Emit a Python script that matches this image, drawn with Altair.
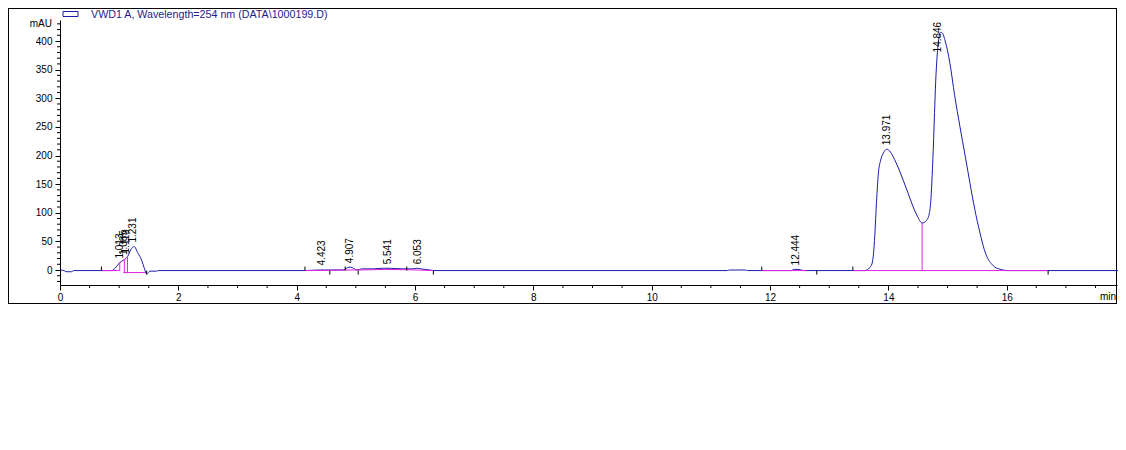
import altair as alt
import pandas as pd
import numpy as np

# ---------------- data ----------------
trace_t = [0.00, 0.07, 0.10, 0.20, 0.23, 0.87, 0.93, 1.01, 1.07, 1.14, 1.20, 1.25,
           1.32, 1.38, 1.425, 1.465, 1.52, 1.63, 1.66,
           4.14, 4.40, 4.78, 4.86, 4.91, 4.96, 5.02, 5.10, 5.30, 5.45, 5.60, 5.78,
           5.95, 6.04, 6.10, 6.25, 6.32,
           11.28, 11.32, 11.58, 11.62, 12.36, 12.41, 12.49, 12.56,
           13.60, 13.66, 13.70, 13.73, 13.75, 13.77, 13.80, 13.83, 13.87, 13.92,
           13.97, 14.02, 14.08, 14.17, 14.25, 14.33, 14.42, 14.49, 14.57, 14.64,
           14.69, 14.72, 14.74, 14.76, 14.78, 14.80, 14.82, 14.85, 14.88, 14.91,
           14.96, 15.04, 15.12, 15.21, 15.30, 15.38, 15.46, 15.55, 15.62, 15.68,
           15.74, 15.80, 15.90, 16.00, 17.90]
trace_v = [0, -1, -3, -3, -1, -1, 3, 13, 17, 23, 36, 41,
           29, 17, 3, -7, -2, -2, -1,
           -1, 0, 0, 4, 5, 3, 0, 2, 2, 3, 3, 2,
           2, 3, 2, 0, -1,
           -1, 0, 0, -1, -1, 1, 1, -1,
           -1, 2, 6, 14, 30, 60, 120, 168, 192, 205,
           211, 208, 198, 178, 157, 135, 110, 94, 82, 86,
           98, 125, 165, 215, 275, 330, 368, 403, 415, 414,
           400, 361, 305, 250, 198, 151, 106, 64, 36, 20,
           11, 5, 1, -1, -1]

# integration baselines (magenta)
base_seg = ["a", "a", "b", "b", "c", "c", "c", "c", "c", "c", "c", "d", "d", "e", "e"]
base_t = [0.70, 1.01, 1.07, 1.44, 4.14, 4.56, 4.82, 5.04, 5.50, 5.86, 6.31, 11.86, 12.62, 13.40, 16.70]
base_v = [-1, -1, -4.5, -4.5, -1, -0.5, 0, 0, 1, 0.5, -1, -1, -1, -1, -1]

# peak separation drop lines (magenta)
drop_t = [1.01, 1.087, 1.14, 14.57]
drop_lo = [-1, -4.5, -4.5, -1]
drop_hi = [13, 19, 22, 82]

# integration event markers (black)
event_t = [0.70, 1.465, 4.14, 4.56, 4.82, 5.04, 5.86, 6.31, 11.86, 12.79, 13.40, 16.70]
event_dir = ["up", "down", "up", "down", "up", "down", "up", "down", "up", "down", "up", "down"]

# peak labels
peak_text = ["1.013", "1.085", "1.119", "1.231", "4.423", "4.907", "5.541", "6.053",
             "12.444", "13.971", "14.846"]
peak_t = [1.013, 1.085, 1.119, 1.235, 4.423, 4.907, 5.541, 6.053, 12.444, 13.971, 14.846]
peak_v = [13, 19, 22, 41, 1, 5, 3, 3, 1, 211, 416]

legend_text = "VWD1 A, Wavelength=254 nm (DATA\\1000199.D)"
x_major = list(range(0, 17, 2))
y_major = list(range(0, 401, 50))

# ---------------- layout ----------------
PX_PER_MIN = 59.17
W, H = 1057, 265
X_MIN, X_MAX = 0, W / PX_PER_MIN
Y_MIN, Y_MAX = -26.2, 436.7
PX_PER_UNIT = H / (Y_MAX - Y_MIN)
BLUE = "#1c1ca8"
MAG = "#e020e0"
FONT = "Liberation Sans"

xscale = alt.Scale(domain=[X_MIN, X_MAX], nice=False, zero=False)
yscale = alt.Scale(domain=[Y_MIN, Y_MAX], nice=False, zero=False)
xaxis = alt.Axis(values=x_major, title=None, grid=False, tickSize=5, tickColor="black",
                 domainColor="black", labelColor="black", labelFont=FONT, labelFontSize=10,
                 labelPadding=2, labelFlush=False, format="d")
yaxis = alt.Axis(values=y_major, title=None, grid=False, tickSize=5, tickColor="black",
                 domainColor="black", labelColor="black", labelFont=FONT, labelFontSize=10,
                 labelPadding=3, format="d")


def X(field="t"):
    return alt.X(f"{field}:Q", scale=xscale, axis=xaxis)


def Y(field="v"):
    return alt.Y(f"{field}:Q", scale=yscale, axis=yaxis)


trace_df = pd.DataFrame({"t": trace_t, "v": trace_v})
base_df = pd.DataFrame({"t": base_t, "v": base_v, "seg": base_seg})
drop_df = pd.DataFrame({"t": drop_t, "v": drop_lo, "v2": drop_hi})
ev = pd.DataFrame({"t": event_t, "dir": event_dir})
ev["v"] = -1.0
ev["v2"] = np.where(ev["dir"] == "up", -1 + 4 / PX_PER_UNIT, -1 - 4 / PX_PER_UNIT)

lab = pd.DataFrame({"t": peak_t, "v": peak_v, "text": peak_text})
text_len_units = (lab["text"].str.len() * 5.4 + 2) / PX_PER_UNIT
lab["v"] = np.minimum(lab["v"], Y_MAX - text_len_units - 2 / PX_PER_UNIT)

xminor = [m / 2 for m in range(1, 36) if m % 4 != 0 and m / 2 <= X_MAX]
yminor = [m for m in range(-20, 431, 10) if m % 50 != 0]
xminor_df = pd.DataFrame({"t": xminor})
yminor_df = pd.DataFrame({"v": yminor})
one = pd.DataFrame({"k": [0]})

trace = alt.Chart(trace_df).mark_line(color=BLUE, strokeWidth=1, interpolate="monotone").encode(
    x=X(), y=Y())
baseline = alt.Chart(base_df).mark_line(color=MAG, strokeWidth=1).encode(
    x=X(), y=Y(), detail="seg:N")
drops = alt.Chart(drop_df).mark_rule(color=MAG, stroke=MAG, strokeWidth=1).encode(
    x=X(), y=Y(), y2="v2:Q")
events = alt.Chart(ev).mark_rule(color="black", strokeWidth=1).encode(
    x=X(), y=Y(), y2="v2:Q")
xminor_ticks = alt.Chart(xminor_df).mark_rule(color="black", strokeWidth=1).encode(
    x=X(), y=alt.value(H), y2=alt.value(H + 3))
yminor_ticks = alt.Chart(yminor_df).mark_rule(color="black", strokeWidth=1).encode(
    y=Y(), x=alt.value(-3), x2=alt.value(0))
labels = alt.Chart(lab).mark_text(angle=270, align="left", baseline="middle", dx=4,
                                  font=FONT, fontSize=10, color="black").encode(
    x=X(), y=Y(), text="text:N")

# frame
frame_top = alt.Chart(one).mark_rule(color="black", strokeWidth=1).encode(
    x=alt.value(-52), x2=alt.value(W), y=alt.value(-11.5))
frame_bottom = alt.Chart(one).mark_rule(color="black", strokeWidth=1).encode(
    x=alt.value(-52), x2=alt.value(W), y=alt.value(283.5))
frame_left = alt.Chart(one).mark_rule(color="black", strokeWidth=1).encode(
    x=alt.value(-51.5), y=alt.value(-12), y2=alt.value(284))
frame_right = alt.Chart(one).mark_rule(color="black", strokeWidth=1).encode(
    x=alt.value(W - 0.5), y=alt.value(-12), y2=alt.value(284))

# legend & unit labels
legend_box = alt.Chart(one).mark_rect(fill="white", stroke=BLUE, strokeWidth=1).encode(
    x=alt.value(3), x2=alt.value(18), y=alt.value(-8.5), y2=alt.value(-3.5))
legend_lbl = alt.Chart(one).mark_text(align="left", baseline="middle", font=FONT,
                                      fontSize=10.7, color="#1c1c8c").encode(
    x=alt.value(31), y=alt.value(-5.5), text=alt.value(legend_text))
mau_lbl = alt.Chart(one).mark_text(align="right", baseline="middle", font=FONT,
                                   fontSize=10, color="black").encode(
    x=alt.value(-8), y=alt.value(4), text=alt.value("mAU"))
min_lbl = alt.Chart(one).mark_text(align="right", baseline="middle", font=FONT,
                                   fontSize=10, color="black").encode(
    x=alt.value(W - 1), y=alt.value(H + 12), text=alt.value("min"))

chart = alt.layer(
    frame_top, frame_bottom, frame_left, frame_right,
    xminor_ticks, yminor_ticks,
    trace, baseline, drops, events, labels,
    legend_box, legend_lbl, mau_lbl, min_lbl,
).properties(
    width=W, height=H,
    autosize=alt.AutoSizeParams(type="none"),
    padding={"left": 52, "top": 12, "right": 1, "bottom": 20},
    background="white",
).configure_view(strokeWidth=0)

chart.save("out.html", embed_options={"renderer": "svg", "actions": False})
